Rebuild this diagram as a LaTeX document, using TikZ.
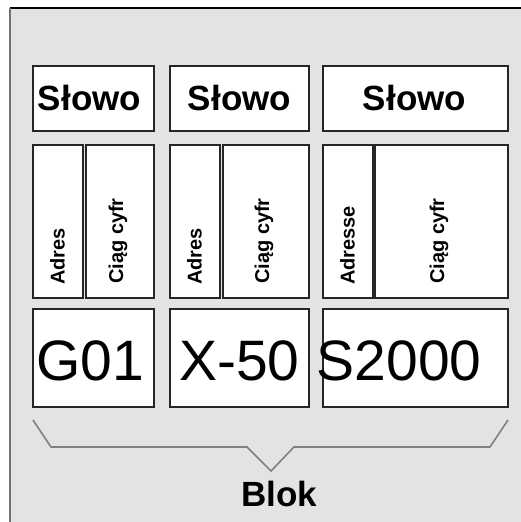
\documentclass[tikz,border=0pt]{standalone}
\usepackage{fontspec}
\setmainfont{Liberation Sans}
\begin{document}
\begin{tikzpicture}[x=1pt,y=-1pt,
  cell/.style={draw=black!85, fill=white, line width=1.3pt, inner sep=0pt, outer sep=0pt},
  wordtxt/.style={font=\fontsize{35}{35}\selectfont\bfseries},
  sidetxt/.style={rotate=90, anchor=west, inner sep=0pt, font=\fontsize{20}{20}\selectfont\bfseries},
  bigtxt/.style={font=\fontsize{57}{57}\selectfont, inner sep=0pt},
  bracecol/.style={draw=black!50, line width=1.6pt}]
\useasboundingbox (0,0) rectangle (520,522);
% background panel
\fill[black!11] (10,8) rectangle (522,524);
\draw[black, line width=2pt] (10,8) -- (522,8);
\draw[black!55, line width=2pt] (10,8) -- (10,524);
% row 1: words
\node[cell, minimum width=121pt, minimum height=65pt] (w1) at (93.5,98.5) {};
\node[cell, minimum width=139pt, minimum height=65pt] (w2) at (239.5,98.5) {};
\node[cell, minimum width=185pt, minimum height=65pt] (w3) at (415.5,98.5) {};
\node[wordtxt, anchor=base] (tw1) at (89.5,110) {Słowo};
\node[wordtxt, anchor=base] (tw2) at (239.5,110) {Słowo};
\node[wordtxt, anchor=base] (tw3) at (414.5,110) {Słowo};
% row 2: address / digits
\node[cell, minimum width=50pt, minimum height=153pt] (a1) at (58,221.5) {};
\node[cell, minimum width=68pt, minimum height=153pt] (c1) at (120,221.5) {};
\node[cell, minimum width=50pt, minimum height=153pt] (a2) at (195,221.5) {};
\node[cell, minimum width=86pt, minimum height=153pt] (c2) at (266,221.5) {};
\node[cell, minimum width=50pt, minimum height=153pt] (a3) at (348,221.5) {};
\node[cell, minimum width=133pt, minimum height=153pt] (c3) at (441.5,221.5) {};
\node[sidetxt] (ta1) at (57.5,285) {Adres};
\node[sidetxt] (tc1) at (118,284) {Ciąg cyfr};
\node[sidetxt] (ta2) at (194.5,285) {Adres};
\node[sidetxt] (tc2) at (264,284) {Ciąg cyfr};
\node[sidetxt] (ta3) at (347.5,285) {Adresse};
\node[sidetxt] (tc3) at (439,284) {Ciąg cyfr};
% row 3: values
\node[cell, minimum width=121pt, minimum height=98pt] (v1) at (93.5,358) {};
\node[cell, minimum width=139pt, minimum height=98pt] (v2) at (239.5,358) {};
\node[cell, minimum width=185pt, minimum height=98pt] (v3) at (415.5,358) {};
\node[bigtxt, anchor=base] (tv1) at (90.5,380) {G01};
\node[bigtxt, anchor=base] (tv2) at (239.5,380) {X-50};
\node[bigtxt, anchor=base west] (tv3) at (316.5,380) {S2000};
% brace
\draw[bracecol, line join=miter] (33,420) -- (51,447) -- (247,447) -- (271,471) -- (294,447) -- (490,447) -- (508,420);
\node[font=\fontsize{35}{35}\selectfont\bfseries, anchor=base, inner sep=0pt] (blok) at (279,506) {Blok};
\end{tikzpicture}
\end{document}
